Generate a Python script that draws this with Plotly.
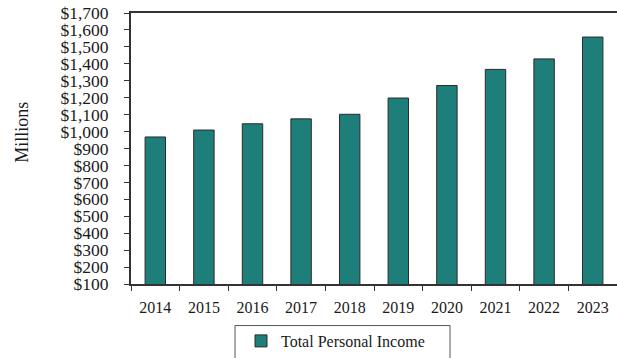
import plotly.graph_objects as go

# Total personal income by year, in millions of dollars
years = ["2014", "2015", "2016", "2017", "2018", "2019", "2020", "2021", "2022", "2023"]
income = [968, 1009, 1046, 1075, 1102, 1198, 1272, 1367, 1429, 1558]
series_name = "Total Personal Income"

W, H = 617, 358
L, R, T, B = 131, 0, 13, 71
pw, ph = W - L - R, H - T - B

def px_x(x):
    return (x - L) / pw

def px_y(y):
    return (H - B - y) / ph

FONT = "Liberation Serif, Times New Roman, serif"
TEAL = "#1e7f7a"
AXIS = "#333333"

fig = go.Figure()
fig.add_trace(go.Bar(
    x=years, y=income, name=series_name,
    marker=dict(color=TEAL, line=dict(color="#2b2b2b", width=1)),
    showlegend=True,
))

fig.update_layout(
    width=W, height=H,
    margin=dict(l=L, r=R, t=T, b=B, pad=0),
    paper_bgcolor="white", plot_bgcolor="white",
    font=dict(family=FONT, color="#1a1a1a"),
    bargap=0.58,
    showlegend=True,
    legend=dict(
        x=px_x(241), y=px_y(345), xanchor="left", yanchor="middle",
        orientation="h", bgcolor="rgba(0,0,0,0)", borderwidth=0,
        font=dict(family=FONT, size=16, color="#1a1a1a"),
        itemwidth=30,
    ),
    xaxis=dict(
        type="category", showline=True, linecolor=AXIS, linewidth=2,
        mirror=True, ticks="outside", ticklen=5, tickcolor=AXIS, tickwidth=1,
        tickson="boundaries", showgrid=False, ticklabelstandoff=8,
        tickfont=dict(family=FONT, size=16, color="#1a1a1a"),
    ),
    yaxis=dict(
        range=[100, 1700], dtick=100, tick0=0, tickprefix="$", tickformat=",d",
        showline=True, linecolor=AXIS, linewidth=2, mirror=False,
        ticks="outside", ticklen=5, tickcolor=AXIS, tickwidth=1,
        showgrid=False, zeroline=False, ticklabelstandoff=12,
        tickfont=dict(family=FONT, size=17.5, color="#1a1a1a"),
    ),
    shapes=[
        # frame around the legend entry
        dict(type="rect", xref="paper", yref="paper",
             x0=px_x(235), x1=px_x(450), y0=px_y(329), y1=px_y(370),
             line=dict(color="#555555", width=1), fillcolor="rgba(0,0,0,0)"),
    ],
    annotations=[
        dict(text="Millions", xref="paper", yref="paper",
             x=px_x(22), y=px_y(134), xanchor="center", yanchor="middle",
             textangle=-90, showarrow=False,
             font=dict(family=FONT, size=18, color="#1a1a1a")),
    ],
)

fig.write_html("out.html")
